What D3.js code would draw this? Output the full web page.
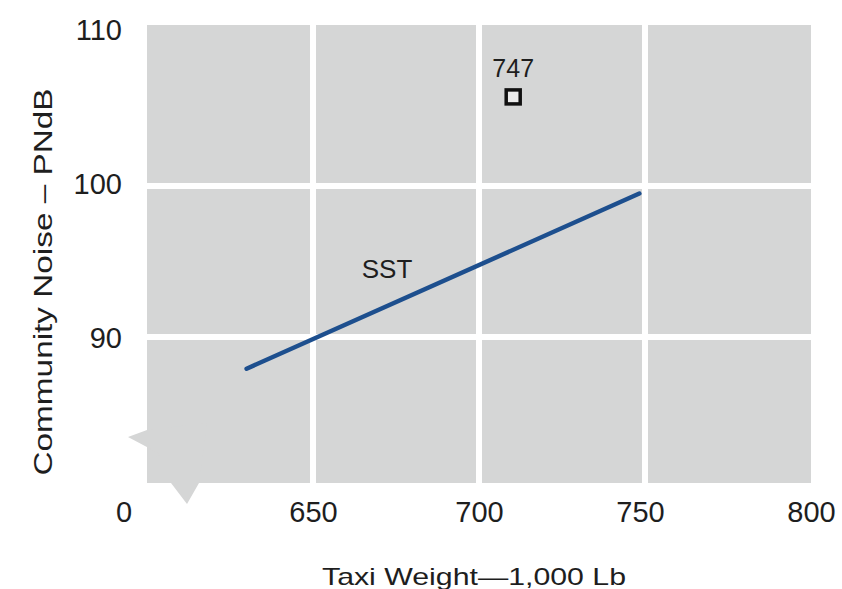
<!DOCTYPE html>
<html>
<head>
<meta charset="utf-8">
<script src="https://cdn.jsdelivr.net/npm/d3@7/dist/d3.min.js"></script>
<style>
  html, body { margin: 0; padding: 0; background: #fff; }
  svg { display: block; }
  text { font-family: "Liberation Sans", Arial, Helvetica, sans-serif; fill: #1e1e1e; }
</style>
</head>
<body>
<svg id="chart" width="842" height="589"></svg>
<script>
// ---- data ----
const xTicks = [650, 700, 750, 800];
const yTicks = [90, 100, 110];
const xGrid = [650, 700, 750];
const yGrid = [90, 100];
const xOriginLabel = "0";
const sstLine = [ { w: 630, n: 87.9 }, { w: 748.3, n: 99.5 } ];
const sstLabel = { w: 672.3, n: 94.5, text: "SST" };
const points747 = [ { w: 710.3, n: 105.9, label: "747" } ];
const xTitle = "Taxi Weight\u20141,000 Lb";
const yTitle = "Community Noise \u2013 PNdB";

// ---- layout ----
const svg = d3.select("#chart");
const plot = { left: 147, right: 811, top: 25, bottom: 483 };
const x = d3.scaleLinear().domain([600, 800]).range([147, 811]);
const y = d3.scaleLinear().domain([80, 110]).range([488, 35]);

const bg = "#d5d6d6";

// background
svg.append("rect")
  .attr("x", plot.left).attr("y", plot.top)
  .attr("width", plot.right - plot.left).attr("height", plot.bottom - plot.top)
  .attr("fill", bg);

// broken-axis symbol at origin
const ox = plot.left, oy = plot.bottom;
svg.append("path")
  .attr("d", `M${ox},${oy - 53} L${ox - 19},${oy - 46} L${ox + 15},${oy - 28} L${ox},${oy - 24} L${ox},${oy}
              L${ox + 24},${oy} L${ox + 40},${oy + 21} L${ox + 52},${oy} L${ox + 60},${oy - 60} Z`)
  .attr("fill", bg);

// grid
svg.append("g").selectAll("line").data(xGrid).join("line")
  .attr("x1", d => x(d)).attr("x2", d => x(d))
  .attr("y1", plot.top).attr("y2", plot.bottom)
  .attr("stroke", "#fff").attr("stroke-width", 6);
svg.append("g").selectAll("line").data(yGrid).join("line")
  .attr("x1", plot.left).attr("x2", plot.right)
  .attr("y1", d => y(d)).attr("y2", d => y(d))
  .attr("stroke", "#fff").attr("stroke-width", 6);

// x axis labels
const xAxis = d3.axisBottom(x).tickValues(xTicks).tickSize(0).tickPadding(0);
const gx = svg.append("g").attr("transform", "translate(0,522)").call(xAxis);
gx.select(".domain").remove();
gx.selectAll("text").attr("dy", 0).attr("y", 0)
  .style("font-size", "29px").style("fill", "#1e1e1e")
  .style("font-family", "'Liberation Sans', Arial, sans-serif");
gx.selectAll(".tick").filter(d => d === 750).select("text").attr("dx", -5);
svg.append("text").attr("x", x(600) - 23).attr("y", 522)
  .attr("text-anchor", "middle").style("font-size", "29px").text(xOriginLabel);

// y axis labels
const yAxis = d3.axisLeft(y).tickValues(yTicks).tickSize(0).tickPadding(0);
const gy = svg.append("g").attr("transform", "translate(122,0)").call(yAxis);
gy.select(".domain").remove();
gy.selectAll("text").attr("x", 0).attr("dy", "0.35em")
  .style("font-size", "29px").style("fill", "#1e1e1e")
  .style("font-family", "'Liberation Sans', Arial, sans-serif");
gy.selectAll(".tick").filter(d => d === 110).select("text").attr("dy", "0.15em");
gy.selectAll(".tick").filter(d => d === 100).select("text").attr("dy", "0.25em");

// SST line
const line = d3.line().x(d => x(d.w)).y(d => y(d.n));
svg.append("path").datum(sstLine)
  .attr("d", line).attr("fill", "none")
  .attr("stroke", "#1d4f8e").attr("stroke-width", 4.5).attr("stroke-linecap", "round");
svg.append("text").attr("x", x(sstLabel.w)).attr("y", y(sstLabel.n))
  .attr("dy", "0.35em")
  .attr("text-anchor", "middle").style("font-size", "26px").text(sstLabel.text);

// 747 point
const pg = svg.append("g").selectAll("g").data(points747).join("g");
pg.append("rect")
  .attr("x", d => x(d.w) - 7).attr("y", d => y(d.n) - 7)
  .attr("width", 14).attr("height", 14)
  .attr("fill", "#ececec").attr("stroke", "#111").attr("stroke-width", 3.5);
pg.append("text").attr("x", d => x(d.w)).attr("y", d => y(d.n) - 20)
  .attr("text-anchor", "middle").style("font-size", "25px").text(d => d.label);

// axis titles
svg.append("text").attr("x", 474).attr("y", 585)
  .attr("text-anchor", "middle").style("font-size", "24px")
  .attr("textLength", 304).attr("lengthAdjust", "spacingAndGlyphs").text(xTitle);
svg.append("text").attr("transform", "translate(52,282) rotate(-90)")
  .attr("text-anchor", "middle").style("font-size", "25px")
  .attr("textLength", 387).attr("lengthAdjust", "spacingAndGlyphs").text(yTitle);
</script>
</body>
</html>
